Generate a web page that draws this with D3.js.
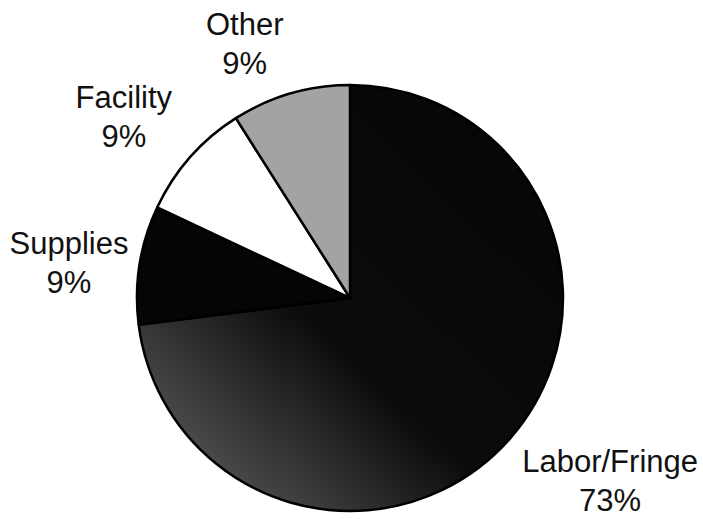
<!DOCTYPE html>
<html>
<head>
<meta charset="utf-8">
<script src="https://cdn.jsdelivr.net/npm/d3@7"></script>
<style>
  body { margin: 0; background: #fff; }
  svg { display: block; }
  .label { font-family: "Liberation Sans", Arial, sans-serif; font-size: 31px; fill: #111; }
</style>
</head>
<body>
<div id="chart"></div>
<script>
// slice order: clockwise from 12 o'clock
var categories = ["Labor/Fringe", "Supplies", "Facility", "Other"],
    values = [73, 9, 9, 9],
    valueLabels = ["73%", "9%", "9%", "9%"];

var width = 703,
    height = 519,
    cx = 350,
    cy = 298,
    radius = 213,
    lineGap = 39;

// where each label block is centred: angle (deg, clockwise from top) and distance from centre
var labelAngle = [126.6, 274.9, 306.95, 336.6],
    labelDist = [324, 282, 283, 265];

var fills = ["url(#laborFill)", "#050505", "#ffffff", "#a3a3a3"];

var svg = d3.select("#chart")
    .append("svg")
    .attr("width", width)
    .attr("height", height);

var defs = svg.append("defs");
var grad = defs.append("linearGradient")
    .attr("id", "laborFill")
    .attr("x1", "85%").attr("y1", "10%")
    .attr("x2", "5%").attr("y2", "95%");
grad.append("stop").attr("offset", "0%").attr("stop-color", "#060606");
grad.append("stop").attr("offset", "55%").attr("stop-color", "#0c0c0c");
grad.append("stop").attr("offset", "100%").attr("stop-color", "#5e5e5e");

var pie = d3.pie().sort(null).value(function (d) { return d; });
var arc = d3.arc().innerRadius(0).outerRadius(radius);

var g = svg.append("g")
    .attr("transform", "translate(" + cx + "," + cy + ")");

g.selectAll(".slice")
    .data(pie(values))
    .enter()
    .append("path")
    .attr("class", "slice")
    .attr("d", arc)
    .style("fill", function (d, i) { return fills[i]; })
    .style("stroke", "#000")
    .style("stroke-width", 2.5)
    .style("stroke-linejoin", "round");

var labels = g.selectAll(".lab")
    .data(categories)
    .enter()
    .append("text")
    .attr("class", "label")
    .attr("text-anchor", "middle")
    .attr("transform", function (d, i) {
        var a = labelAngle[i] * Math.PI / 180;
        var x = labelDist[i] * Math.sin(a),
            y = -labelDist[i] * Math.cos(a);
        return "translate(" + x + "," + y + ")";
    });

labels.append("tspan")
    .attr("x", 0)
    .attr("y", -lineGap / 2)
    .text(function (d) { return d; });

labels.append("tspan")
    .attr("x", 0)
    .attr("y", lineGap / 2)
    .text(function (d, i) { return valueLabels[i]; });
</script>
</body>
</html>
